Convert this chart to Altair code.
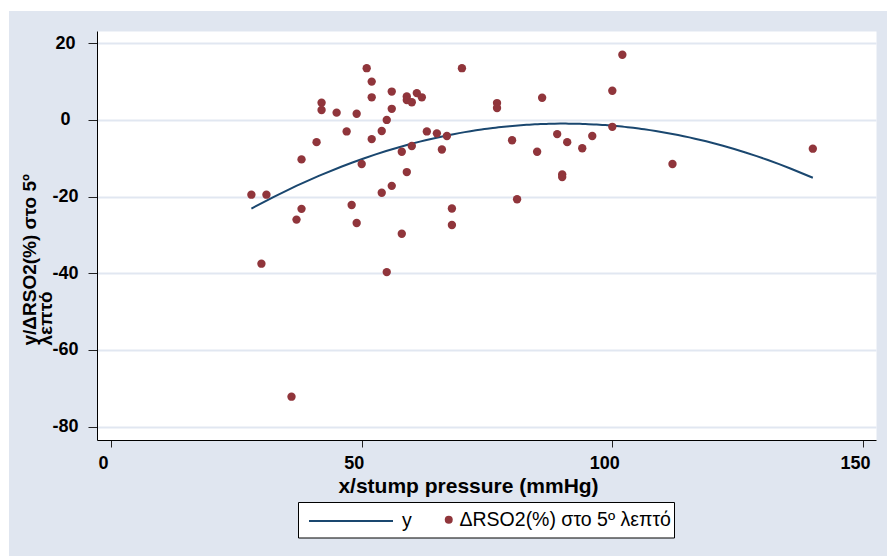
import altair as alt
import pandas as pd

# ---- data ----
pressure = [51, 52, 52, 56, 59, 59, 60, 61, 62, 42, 42, 45, 49, 56, 55, 47, 54, 52, 41,
            63, 65, 67, 60, 58, 66, 38, 50, 59, 28, 31, 56, 54, 38, 37, 48, 49, 68, 68,
            58, 30, 55, 70, 36,
            77, 77, 86, 100, 102, 100, 80, 89, 91, 96, 94, 85, 90, 90, 112, 140, 81]
drso2 = [13.5, 10.0, 5.9, 7.4, 6.1, 5.2, 4.6, 7.0, 5.9, 4.5, 2.6, 1.9, 1.6, 2.9, 0.0, -3.0,
         -2.9, -5.0, -5.8, -3.0, -3.5, -4.2, -6.8, -8.3, -7.7, -10.3, -11.5, -13.6, -19.5,
         -19.5, -17.2, -19.0, -23.2, -26.0, -22.2, -26.9, -23.1, -27.4, -29.7, -37.5, -39.7,
         13.5, -72.2,
         4.4, 3.1, 5.8, 7.6, 17.0, -1.8, -5.3, -3.7, -5.8, -4.2, -7.4, -8.3, -14.2, -14.9,
         -11.5, -7.5, -20.7]

x_ticks = [0, 50, 100, 150]
y_ticks = [-80, -60, -40, -20, 0, 20]
line_label = "y"
point_label = "ΔRSO2(%) στο 5º λεπτό"
x_title = "x/stump pressure (mmHg)"
y_title = ["y/ΔRSO2(%) στο 5º", "λεπτό"]

NAVY = "#1A476F"
MAROON = "#90353B"
BG = "#E0E6F0"
GRID = "#E1E7F1"
FONT = "Liberation Sans"

df = pd.DataFrame({"pressure": pressure, "drso2": drso2, "series": point_label})

xscale = alt.Scale(domain=[-2.8, 152.6], nice=False, zero=False)
yscale = alt.Scale(domain=[-83.5, 23.2], nice=False, zero=False)

xaxis = alt.Axis(values=x_ticks, title=x_title, grid=False, tickSize=7, tickColor="#222",
                 domainColor="#000", labelFont=FONT,
                 labelFontWeight="bold", labelFontSize=18, labelColor="#000",
                 labelBaseline="alphabetic", labelPadding=21, labelOffset=-8, labelFlush=False,
                 titleFont=FONT, titleFontWeight="bold",
                 titleFontSize=21, titleColor="#000", titleX=371, titleY=52,
                 titleBaseline="alphabetic", titleAlign="center")
yaxis = alt.Axis(values=y_ticks, title=y_title, grid=True, gridColor=GRID, gridWidth=2,
                 tickSize=9, tickColor="#222", domainColor="#000",
                 labelExpr="'' + datum.value",
                 labelFont=FONT, labelFontWeight="bold", labelFontSize=18,
                 labelColor="#000", labelAlign="center", labelBaseline="middle",
                 labelPadding=23, labelFlush=False,
                 titleFont=FONT, titleFontWeight="bold",
                 titleFontSize=19, titleColor="#000", titleAngle=270, titleAlign="left",
                 titleBaseline="top", titleX=-77, titleY=314, titleLineHeight=16)

base = alt.Chart(df)

points = base.mark_circle(size=70, opacity=1).encode(
    x=alt.X("pressure:Q", scale=xscale, axis=xaxis),
    y=alt.Y("drso2:Q", scale=yscale, axis=yaxis),
    fill=alt.Fill("series:N", scale=alt.Scale(domain=[point_label], range=[MAROON]),
                  legend=alt.Legend(orient="none", legendX=342, legendY=479, title=None,
                                    padding=0, symbolSize=64, symbolStrokeWidth=0,
                                    labelFont=FONT, labelFontSize=19.5, labelLimit=400,
                                    labelColor="#000", labelOffset=1)),
)

fit = base.transform_regression("pressure", "drso2", method="poly", order=2).transform_calculate(
    series="'" + line_label + "'"
).mark_line(strokeWidth=2).encode(
    x=alt.X("pressure:Q", scale=xscale),
    y=alt.Y("drso2:Q", scale=yscale),
    stroke=alt.Stroke("series:N", scale=alt.Scale(domain=[line_label], range=[NAVY]),
                      legend=alt.Legend(orient="none", legendX=211, legendY=447, title=None,
                                        padding=0, symbolSize=7056, symbolStrokeWidth=2,
                                        symbolType="stroke",
                                        labelFont=FONT, labelFontSize=19.5,
                                        labelColor="#000", labelOffset=8)),
)

one = alt.Data(values=[{}])
strip_top = alt.Chart(one).mark_rect(color="white").encode(
    x=alt.value(-97), x2=alt.value(790), y=alt.value(-31), y2=alt.value(-20))
strip_left = alt.Chart(one).mark_rect(color="white").encode(
    x=alt.value(-97), x2=alt.value(-88), y=alt.value(-31), y2=alt.value(525))
legend_box = alt.Chart(one).mark_rect(fill="white", stroke="#000", strokeWidth=1).encode(
    x=alt.value(201.5), x2=alt.value(577.5), y=alt.value(471.5), y2=alt.value(507))

chart = alt.layer(strip_top, strip_left, legend_box, fit, points).resolve_scale(
    fill="independent", stroke="independent"
).properties(
    width=779, height=409, background=BG,
    autosize=alt.AutoSizeParams(type="none"),
    padding={"left": 97, "top": 31, "right": 11, "bottom": 116},
).configure_view(fill="white", stroke="transparent")

chart.save("out.html", embed_options={"renderer": "svg", "actions": False})
